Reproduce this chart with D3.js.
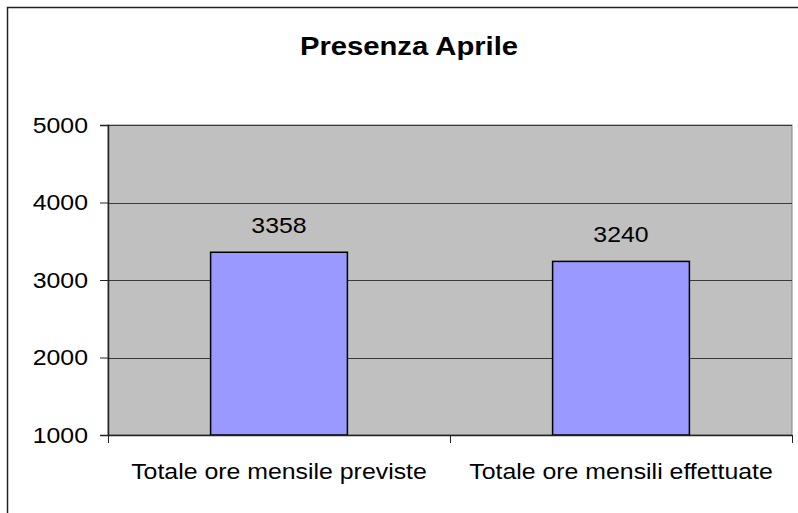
<!DOCTYPE html>
<html>
<head>
<meta charset="utf-8">
<script src="https://cdn.jsdelivr.net/npm/d3@7/dist/d3.min.js"></script>
<style>
  body { margin: 0; background: #fff; }
  svg { display: block; font-family: "Liberation Sans", Arial, sans-serif; }
</style>
</head>
<body>
<div id="chart"></div>
<script>
// data
const categories = ["Totale ore mensile previste", "Totale ore mensili effettuate"];
const values = [3358, 3240];
const yTicks = [1000, 2000, 3000, 4000, 5000];
const title = "Presenza Aprile";

const W = 798, H = 513;
const margin = { top: 125, right: 6, bottom: 78, left: 108 };
const width = W - margin.left - margin.right,
    height = H - margin.top - margin.bottom;
const stretch = 1.13; // the original text is drawn a bit wide

const svg = d3.select("#chart")
    .append("svg")
    .attr("width", W)
    .attr("height", H);

// outer chart border (runs off the page on right and bottom)
svg.append("path")
    .attr("d", `M7.5,${H + 5} V7.5 H${W + 5}`)
    .attr("fill", "none")
    .attr("stroke", "#222")
    .attr("stroke-width", 1.5);

svg.append("text")
    .attr("transform", "translate(409,55) scale(1.17,1)")
    .attr("text-anchor", "middle")
    .style("font-size", "25px")
    .style("font-weight", "bold")
    .text(title);

const g = svg.append("g")
    .attr("transform", `translate(${margin.left},${margin.top})`);

const x = d3.scaleBand()
    .domain(categories)
    .range([0, width])
    .padding(0);

const y = d3.scaleLinear()
    .domain([1000, 5000])
    .range([height, 0]);

// plot area
g.append("rect")
    .attr("width", width)
    .attr("height", height)
    .attr("fill", "#c0c0c0")
    .attr("stroke", "#808080")
    .attr("stroke-width", 1);

// gridlines
g.append("g")
    .selectAll("line")
    .data(yTicks.slice(1))
    .join("line")
    .attr("x1", 0)
    .attr("x2", width)
    .attr("y1", d => Math.round(y(d)) + 0.5)
    .attr("y2", d => Math.round(y(d)) + 0.5)
    .attr("stroke", "#3a3a3a")
    .attr("stroke-width", 1);

// bars
const barW = x.bandwidth() * 0.4;
g.append("g")
    .selectAll("rect")
    .data(values)
    .join("rect")
    .attr("x", (d, i) => x(categories[i]) + (x.bandwidth() - barW) / 2)
    .attr("y", d => y(d))
    .attr("width", barW)
    .attr("height", d => height - y(d))
    .attr("fill", "#9999ff")
    .attr("stroke", "#000")
    .attr("stroke-width", 1.5);

// value labels
g.append("g")
    .selectAll("text")
    .data(values)
    .join("text")
    .attr("transform", (d, i) => `translate(${x(categories[i]) + x.bandwidth() / 2},${y(d) - 19}) scale(${stretch},1)`)
    .attr("text-anchor", "middle")
    .style("font-size", "22px")
    .attr("fill", "#000")
    .text(d => d);

// y axis
const yAxis = g.append("g")
    .call(d3.axisLeft(y).tickValues(yTicks).tickSize(8).tickPadding(12).tickFormat(d3.format("d")));
yAxis.select(".domain").attr("stroke", "#222").attr("stroke-width", 1.5);
yAxis.selectAll(".tick line").attr("stroke", "#222");
yAxis.selectAll(".tick text")
    .attr("x", 0)
    .attr("transform", `translate(-20,0) scale(${stretch},1)`)
    .style("font-size", "22px")
    .attr("fill", "#000")
    .style("font-family", "Liberation Sans, Arial, sans-serif");

// x axis
const xAxis = g.append("g")
    .attr("transform", `translate(0,${height})`)
    .call(d3.axisBottom(x).tickSize(0).tickPadding(28));
xAxis.select(".domain").attr("stroke", "#222").attr("stroke-width", 1.5);
xAxis.selectAll(".tick text")
    .attr("transform", `scale(${stretch},1)`)
    .style("font-size", "22px")
    .attr("fill", "#000")
    .style("font-family", "Liberation Sans, Arial, sans-serif");

// category separator ticks
g.append("g")
    .selectAll("line")
    .data([0, 1, 2])
    .join("line")
    .attr("x1", d => Math.round(d * x.step()) + 0.5)
    .attr("x2", d => Math.round(d * x.step()) + 0.5)
    .attr("y1", height)
    .attr("y2", height + 8)
    .attr("stroke", "#222")
    .attr("stroke-width", 1);
</script>
</body>
</html>
